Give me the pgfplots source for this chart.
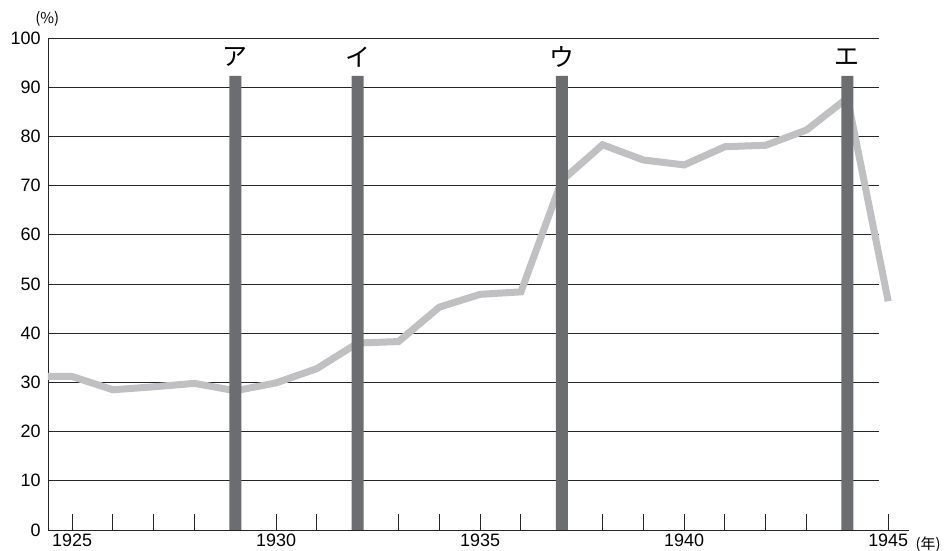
\documentclass[border=0pt]{standalone}
\usepackage{fontspec}
\setmainfont{Liberation Sans}
\newfontfamily\jp{Noto Sans CJK JP}
\usepackage{pgfplots}
\pgfplotsset{compat=1.18}
\definecolor{linegray}{RGB}{192,192,195}
\definecolor{bargray}{RGB}{108,109,113}

\begin{document}
\begin{tikzpicture}[x=1bp,y=1bp]
\path[use as bounding box] (-48,-21) rectangle (900,530);
\begin{axis}[
  at={(0,0)}, anchor=south west,
  scale only axis, width=861bp, height=492bp,
  xmin=1924.41, xmax=1945.51, ymin=0, ymax=100,
  axis x line=bottom, axis y line=left,
  axis line style={-, line width=0.9bp, black!85},
  xtick={1925,1930,...,1945},
  minor xtick={1926,...,1944},
  ytick={0,10,...,100},
  tick align=inside,
  major tick length=16bp, minor tick length=16bp,
  xtick style={line width=0.9bp, black!85},
  minor tick style={line width=0.9bp, black!85},
  ytick style={draw=none},
  /pgf/number format/1000 sep={},
  /pgf/number format/assume math mode=true,
  tick label style={font=\fontsize{18}{18}\selectfont},
  yticklabel style={xshift=-4bp},
  clip=false,
]
% grid lines stop short of the right end
\pgfplotsinvokeforeach{10,20,...,100}{
  \draw[line width=0.9bp, black!85] (axis cs:1924.41,#1) -- (axis cs:1944.78,#1);
}
\addplot[linegray, line width=7bp, mark=none] coordinates {
  (1924.41,31.2) (1925,31.2) (1926,28.5) (1927,29.1) (1928,29.8)
  (1929,28.3) (1930,29.9) (1931,32.8) (1932,38.0) (1933,38.3)
  (1934,45.3) (1935,47.9) (1936,48.4) (1937,71.0) (1938,78.3)
  (1939,75.2) (1940,74.2) (1941,77.9) (1942,78.2) (1943,81.3)
  (1944,87.8) (1945,46.5)
};
\addplot[ybar, bar width=12bp, bar shift=0pt, fill=bargray, draw=none] coordinates {
  (1929,92.3) (1932,92.3) (1937,92.3) (1944,92.3)
};
\node[font=\jp\fontsize{25}{25}\selectfont] at (axis cs:1929,96.2) {ア};
\node[font=\jp\fontsize{25}{25}\selectfont] at (axis cs:1932,96.2) {イ};
\node[font=\jp\fontsize{25}{25}\selectfont] at (axis cs:1937,96.2) {ウ};
\node[font=\jp\fontsize{25}{25}\selectfont] at (axis cs:1944,96.2) {エ};
\node[font=\jp\fontsize{15}{15}\selectfont] at (axis cs:1924.39,103.9) {(\%)};
\node[font=\jp\fontsize{15}{15}\selectfont] at (axis cs:1945.98,-3.0) {(年)};
\end{axis}
\end{tikzpicture}
\end{document}
